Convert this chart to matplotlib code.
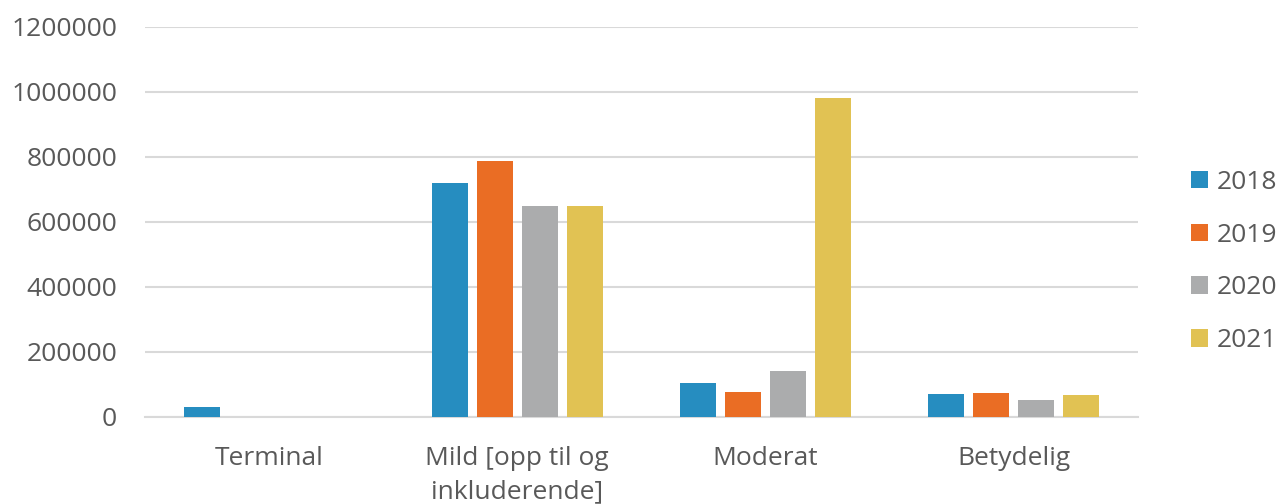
import numpy as np
import matplotlib.pyplot as plt

plt.rcParams['font.family'] = ['Open Sans', 'DejaVu Sans']

categories = ['Terminal', 'Mild [opp til og\ninkluderende]', 'Moderat', 'Betydelig']
years = ['2018', '2019', '2020', '2021']
v2018 = [31000, 718000, 103000, 69000]
v2019 = [0, 786000, 76000, 74000]
v2020 = [0, 647000, 141000, 51000]
v2021 = [0, 648000, 981000, 67000]
series = [v2018, v2019, v2020, v2021]
colors = ['#268DC0', '#EA6D24', '#ABACAD', '#E1C253']

fig = plt.figure(figsize=(12.77, 5.04), dpi=100)
ax = fig.add_axes([0.1135, 0.1732, 0.891 - 0.1135, 0.947 - 0.1732])

x = np.arange(len(categories))
step = 0.181
width = 0.145
handles = []
for i, (vals, c) in enumerate(zip(series, colors)):
    b = ax.bar(x + (i - 1.5) * step, vals, width, color=c, zorder=3, label=years[i])
    handles.append(b)

ax.set_xlim(-0.5, len(categories) - 0.5)
ax.set_ylim(0, 1200000)
ax.set_yticks(np.arange(0, 1200001, 200000))
ax.set_yticklabels([str(v) for v in range(0, 1200001, 200000)])
ax.set_xticks(x)
ax.set_xticklabels(categories, linespacing=1.45)
ax.yaxis.grid(True, color='#D9D9D9', linewidth=1.5, zorder=0)
ax.set_axisbelow(True)
for s in ax.spines.values():
    s.set_visible(False)
ax.tick_params(axis='both', length=0, labelsize=19, colors='#595959')
ax.tick_params(axis='y', pad=20)
ax.tick_params(axis='x', pad=21)
ax.axhline(0, color='#D9D9D9', linewidth=1.5, zorder=1, clip_on=False)

fig.legend(handles=handles, labels=years, loc='center left',
           bbox_to_anchor=(1191 / 1277, 0.481), frameon=False, fontsize=19,
           labelcolor='#595959', handlelength=0.64, handleheight=0.64,
           handletextpad=0.34, labelspacing=1.05, borderpad=0, borderaxespad=0)

fig.savefig('out.png', dpi=100)
